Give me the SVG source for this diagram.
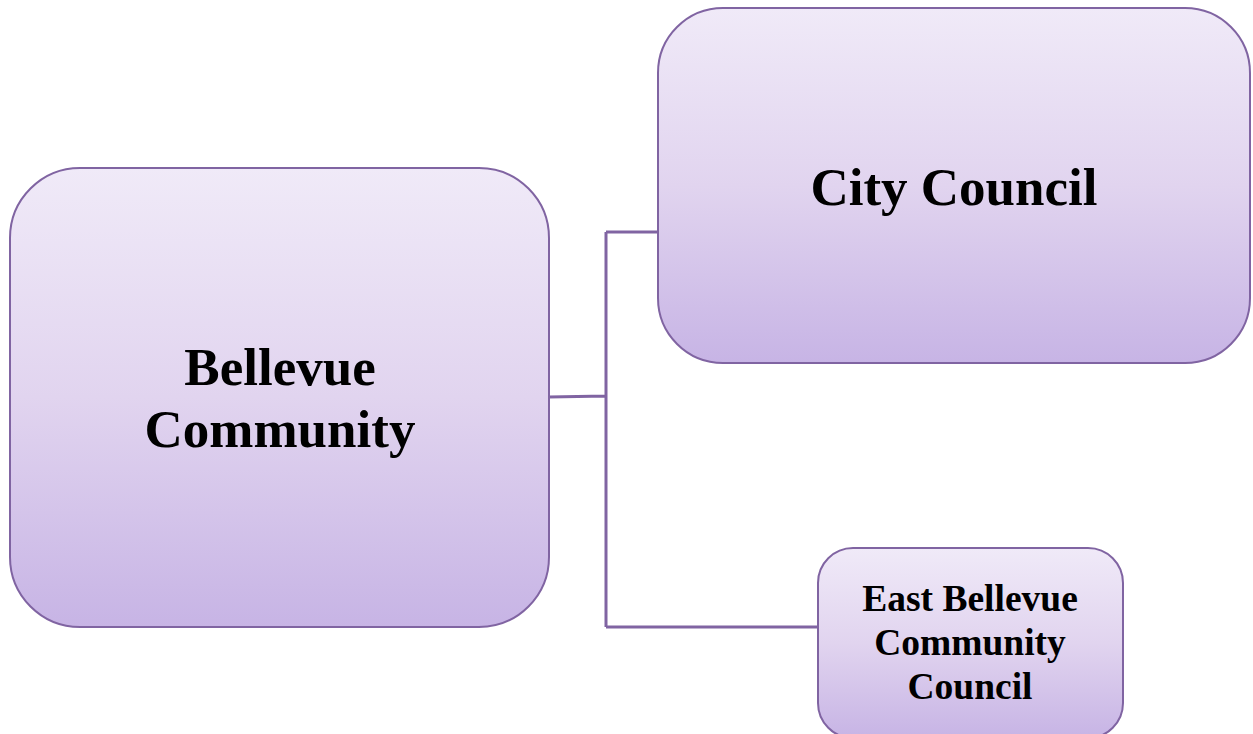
<svg xmlns="http://www.w3.org/2000/svg" width="1253" height="734" viewBox="0 0 1253 734">
<defs>
<linearGradient id="g" x1="0" y1="0" x2="0" y2="1">
<stop offset="0" stop-color="#f0eaf8"/>
<stop offset="0.5" stop-color="#e1d4ef"/>
<stop offset="1" stop-color="#c7b4e5"/>
</linearGradient>
<style>
.box{fill:url(#g);stroke:#8064a2;stroke-width:2}
.t{font-family:"Liberation Serif","Times New Roman",serif;font-weight:bold;fill:#000;text-anchor:middle}
.c{fill:none;stroke:#8064a2;stroke-width:3}
</style>
</defs>
<rect width="1253" height="734" fill="#fff"/>
<g id="connectors">
<path class="c" d="M549,397 L606,396 M606,232 L606,627 M606,232 L658,232 M606,627 L818,627"/>
</g>
<g id="bellevue">
<rect class="box" x="10" y="168" width="539" height="459" rx="70" ry="70"/>
<text class="t" x="280" y="385" font-size="53">Bellevue</text>
<text class="t" x="280" y="447" font-size="53">Community</text>
</g>
<g id="city-council">
<rect class="box" x="658" y="8" width="592" height="355" rx="65" ry="65"/>
<text class="t" x="954" y="205" font-size="53">City Council</text>
</g>
<g id="east-bellevue">
<rect class="box" x="818" y="548" width="305" height="190" rx="35" ry="35"/>
<text class="t" x="970" y="611" font-size="37.5">East Bellevue</text>
<text class="t" x="970" y="655" font-size="37.5">Community</text>
<text class="t" x="970" y="699" font-size="37.5">Council</text>
</g>
</svg>
